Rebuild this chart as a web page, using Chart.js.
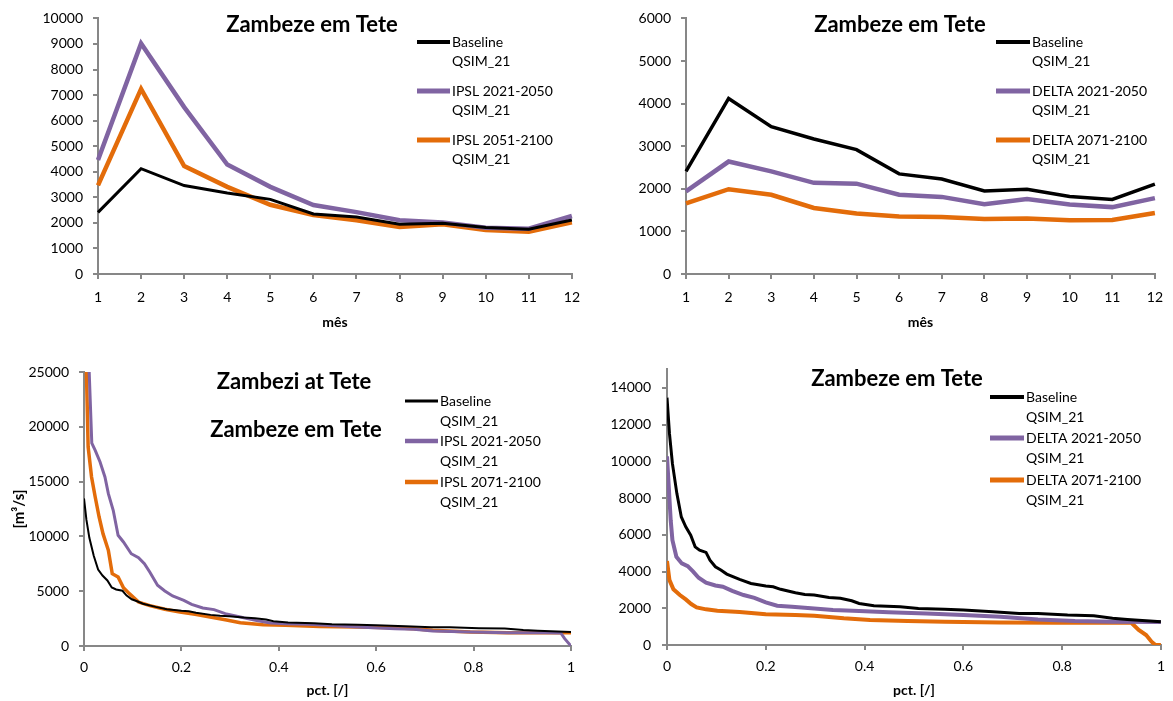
<!DOCTYPE html>
<html>
<head>
<meta charset="utf-8">
<script src="https://cdn.jsdelivr.net/npm/chart.js@4"></script>
<style>
  body { margin: 0; background: #fff; width: 1173px; height: 701px; position: relative; overflow: hidden; }
  canvas { position: absolute; }
</style>
</head>
<body>
<canvas id="monthlyIpsl" width="590" height="345" style="left:0;top:0"></canvas>
<canvas id="monthlyDelta" width="583" height="345" style="left:590px;top:0"></canvas>
<canvas id="durationIpsl" width="590" height="351" style="left:0;top:350px"></canvas>
<canvas id="durationDelta" width="583" height="351" style="left:590px;top:350px"></canvas>
<script>
// caudais médios mensais (m3/s)
const months = ['1', '2', '3', '4', '5', '6', '7', '8', '9', '10', '11', '12'];
const baselineMonthly = [2410, 4120, 3460, 3170, 2920, 2350, 2230, 1950, 1990, 1820, 1750, 2110];
const ipsl2021Monthly = [4460, 9020, 6530, 4280, 3410, 2700, 2420, 2100, 2020, 1810, 1770, 2270];
const ipsl2051Monthly = [3470, 7240, 4220, 3410, 2710, 2310, 2100, 1840, 1950, 1720, 1650, 2020];
const delta2021Monthly = [1940, 2640, 2410, 2140, 2120, 1860, 1810, 1640, 1760, 1630, 1570, 1780];
const delta2071Monthly = [1660, 1990, 1860, 1550, 1420, 1350, 1340, 1290, 1300, 1260, 1270, 1430];

// curvas de duração: fração do tempo vs caudal
const baselinePct = [0, 0.005, 0.011, 0.02, 0.029, 0.038, 0.048, 0.057, 0.066, 0.079, 0.087, 0.098, 0.109, 0.121, 0.147, 0.17, 0.2, 0.215, 0.23, 0.26, 0.279, 0.298, 0.328, 0.351, 0.374, 0.389, 0.419, 0.472, 0.509, 0.562, 0.6, 0.66, 0.713, 0.751, 0.811, 0.864, 0.902, 0.932, 1.0];
const baselineQ = [13460, 11500, 9870, 8240, 6970, 6430, 5980, 5340, 5160, 5040, 4620, 4260, 4080, 3860, 3570, 3350, 3210, 3170, 3030, 2840, 2750, 2720, 2590, 2540, 2410, 2260, 2140, 2080, 1990, 1940, 1900, 1810, 1720, 1720, 1630, 1590, 1450, 1390, 1270];

const ipsl2021Pct = [0, 0.016, 0.023, 0.033, 0.043, 0.05, 0.06, 0.07, 0.081, 0.097, 0.112, 0.124, 0.135, 0.151, 0.166, 0.182, 0.205, 0.221, 0.244, 0.267, 0.29, 0.321, 0.352, 0.383, 0.414, 0.46, 0.507, 0.561, 0.639, 0.677, 0.716, 0.793, 0.87, 0.948, 0.979, 0.987, 1.0];
const ipsl2021Q = [38000, 18500, 17850, 16790, 15420, 13900, 12380, 10100, 9490, 8420, 8060, 7510, 6750, 5540, 5020, 4560, 4170, 3800, 3470, 3320, 2950, 2650, 2340, 2100, 2040, 1980, 1860, 1730, 1580, 1520, 1370, 1280, 1220, 1220, 1190, 670, 0];

const ipsl2071Pct = [0, 0.0085, 0.0155, 0.023, 0.031, 0.039, 0.05, 0.058, 0.07, 0.081, 0.093, 0.112, 0.135, 0.166, 0.197, 0.228, 0.259, 0.29, 0.321, 0.368, 0.414, 0.484, 0.561, 0.639, 0.677, 0.716, 0.793, 0.87, 1.0];
const ipsl2071Q = [34800, 18160, 15420, 13590, 11770, 10250, 8730, 6600, 6300, 5320, 4780, 4010, 3680, 3350, 3100, 2890, 2650, 2400, 2130, 1950, 1890, 1790, 1730, 1670, 1580, 1430, 1280, 1220, 1220];

const delta2021Pct = [0, 0.004, 0.0075, 0.011, 0.019, 0.03, 0.042, 0.053, 0.064, 0.079, 0.098, 0.113, 0.132, 0.155, 0.177, 0.2, 0.223, 0.253, 0.298, 0.336, 0.389, 0.449, 0.525, 0.6, 0.675, 0.751, 0.826, 0.902, 1.0];
const delta2021Q = [10270, 8420, 6790, 5710, 4800, 4440, 4290, 3990, 3660, 3390, 3240, 3170, 2950, 2720, 2570, 2320, 2140, 2080, 1990, 1900, 1850, 1780, 1720, 1630, 1540, 1390, 1300, 1270, 1250];

const delta2071Pct = [0, 0.005, 0.013, 0.026, 0.038, 0.049, 0.06, 0.079, 0.102, 0.147, 0.2, 0.26, 0.298, 0.358, 0.411, 0.487, 0.562, 0.675, 0.789, 0.94, 0.955, 0.97, 0.981, 0.989, 1.0];
const delta2071Q = [4570, 3530, 3030, 2720, 2480, 2230, 2050, 1940, 1870, 1790, 1680, 1630, 1590, 1450, 1360, 1300, 1270, 1230, 1210, 1210, 815, 540, 180, 0, 0];

// marcas do eixo y do último painel (o eixo vai até 15000 sem rótulo)
const deltaDurationTicks = [0, 2000, 4000, 6000, 8000, 10000, 12000, 14000];

const BLACK = '#000000';
const PURPLE = '#8064a2';
const ORANGE = '#e36c0a';
const GREY = '#878787';

Chart.defaults.font.family = 'Lato, "Open Sans", sans-serif';
Chart.defaults.color = '#000';

const pairs = (xs, ys) => xs.map((x, i) => ({ x: x, y: ys[i] }));

function series(label, data, color, width) {
    return {
        label: label,
        data: data,
        borderColor: color,
        backgroundColor: color,
        borderWidth: width,
        pointRadius: 0,
        tension: 0,
        fill: false
    };
}

// legenda desenhada à mão (duas linhas por série)
const keyBlock = {
    id: 'keyBlock',
    afterDraw(chart, args, opts) {
        const ctx = chart.ctx;
        ctx.save();
        ctx.font = '14px Lato, sans-serif';
        ctx.textBaseline = 'middle';
        ctx.lineCap = 'butt';
        chart.data.datasets.forEach((ds, i) => {
            const y = opts.rows[i];
            ctx.strokeStyle = ds.borderColor;
            ctx.lineWidth = opts.widths[i];
            ctx.beginPath();
            ctx.moveTo(opts.x, y);
            ctx.lineTo(opts.x + opts.len, y);
            ctx.stroke();
            ctx.fillStyle = '#000';
            ds.label.split('\n').forEach((line, k) => {
                ctx.fillText(line, opts.x + opts.len + 2, y + k * opts.gap);
            });
        });
        ctx.restore();
    }
};

// títulos dentro da área do gráfico
const captions = {
    id: 'captions',
    afterDraw(chart, args, opts) {
        const ctx = chart.ctx;
        ctx.save();
        ctx.font = 'bold 22px Lato, sans-serif';
        ctx.fillStyle = '#000';
        ctx.textAlign = 'center';
        ctx.textBaseline = 'middle';
        opts.items.forEach(t => ctx.fillText(t.text, t.x, t.y));
        ctx.restore();
    }
};

function yAxis(max, step, width, pad, title) {
    const ax = {
        min: 0,
        max: max,
        ticks: { stepSize: step, padding: pad, font: { size: 14 }, callback: v => String(v) },
        grid: { drawOnChartArea: false, tickLength: 5, color: GREY, lineWidth: 2 },
        border: { color: GREY, width: 2 },
        afterFit: s => { s.width = width; }
    };
    if (title) {
        ax.title = { display: true, text: title, font: { size: 15, weight: 'bold' }, padding: { top: 10 } };
    }
    return ax;
}

function xAxis(height, pad, title, titlePad) {
    return {
        ticks: { padding: pad, font: { size: 14 }, maxRotation: 0, autoSkip: false },
        grid: { drawOnChartArea: false, tickLength: 5, color: GREY, lineWidth: 2 },
        border: { color: GREY, width: 2 },
        title: { display: true, text: title, font: { size: 14, weight: 'bold' }, padding: { bottom: titlePad } },
        afterFit: s => { s.height = height; }
    };
}

// eixo de fração 0..1, rótulos 0, 0.2 ... 1
function pctAxis(height, pad) {
    const ax = xAxis(height, pad, 'pct. [/]', 2);
    ax.type = 'linear';
    ax.min = 0;
    ax.max = 1;
    ax.ticks.stepSize = 0.2;
    ax.ticks.callback = v => String(Number(v.toFixed(1)));
    return ax;
}

function baseOptions(padding, scales, keyOpts, captionItems) {
    return {
        responsive: false,
        animation: false,
        layout: { padding: padding },
        scales: scales,
        plugins: {
            legend: { display: false },
            tooltip: { enabled: false },
            keyBlock: keyOpts,
            captions: { items: captionItems }
        }
    };
}

// médias mensais, cenários IPSL
new Chart(document.getElementById('monthlyIpsl'), {
    type: 'line',
    data: {
        labels: months,
        datasets: [
            series('Baseline\nQSIM_21', baselineMonthly, BLACK, 3),
            series('IPSL 2021-2050\nQSIM_21', ipsl2021Monthly, PURPLE, 4.5),
            series('IPSL 2051-2100\nQSIM_21', ipsl2051Monthly, ORANGE, 4.5)
        ]
    },
    options: baseOptions(
        { left: 0, top: 15, right: 15, bottom: 0 },
        { x: xAxis(71, 10, 'mês', 14), y: yAxis(10000, 1000, 98, 10) },
        { x: 417, len: 33, rows: [42, 91, 140], gap: 19.5, widths: [4, 5, 5] },
        [{ text: 'Zambeze em Tete', x: 312, y: 25 }]
    ),
    plugins: [keyBlock, captions]
});

// médias mensais, cenários DELTA
new Chart(document.getElementById('monthlyDelta'), {
    type: 'line',
    data: {
        labels: months,
        datasets: [
            series('Baseline\nQSIM_21', baselineMonthly, BLACK, 3.5),
            series('DELTA 2021-2050\nQSIM_21', delta2021Monthly, PURPLE, 4.5),
            series('DELTA 2071-2100\nQSIM_21', delta2071Monthly, ORANGE, 4.5)
        ]
    },
    options: baseOptions(
        { left: 0, top: 15, right: 10, bottom: 0 },
        { x: xAxis(71, 10, 'mês', 14), y: yAxis(6000, 1000, 96, 10) },
        { x: 406, len: 34, rows: [42, 91, 140], gap: 19.5, widths: [4, 5, 5] },
        [{ text: 'Zambeze em Tete', x: 310, y: 25 }]
    ),
    plugins: [keyBlock, captions]
});

// curvas de duração, cenários IPSL
new Chart(document.getElementById('durationIpsl'), {
    type: 'line',
    data: {
        datasets: [
            series('Baseline\nQSIM_21', pairs(baselinePct, baselineQ), BLACK, 2),
            series('IPSL 2021-2050\nQSIM_21', pairs(ipsl2021Pct, ipsl2021Q), PURPLE, 3),
            series('IPSL 2071-2100\nQSIM_21', pairs(ipsl2071Pct, ipsl2071Q), ORANGE, 3.5)
        ]
    },
    options: baseOptions(
        { left: 0, top: 22, right: 19, bottom: 0 },
        { x: pctAxis(55, 8), y: yAxis(25000, 5000, 84, 10, '[m³/s]') },
        { x: 405, len: 33, rows: [51, 91, 132], gap: 20, widths: [3, 4.5, 4.5] },
        [{ text: 'Zambezi at Tete', x: 294, y: 32 }, { text: 'Zambeze em Tete', x: 296, y: 80 }]
    ),
    plugins: [keyBlock, captions]
});

// curvas de duração, cenários DELTA
const deltaY = yAxis(15000, 2000, 77, 11);
deltaY.afterBuildTicks = s => { s.ticks = deltaDurationTicks.map(v => ({ value: v })); };
new Chart(document.getElementById('durationDelta'), {
    type: 'line',
    data: {
        datasets: [
            series('Baseline\nQSIM_21', pairs(baselinePct, baselineQ), BLACK, 3),
            series('DELTA 2021-2050\nQSIM_21', pairs(delta2021Pct, delta2021Q), PURPLE, 4),
            series('DELTA 2071-2100\nQSIM_21', pairs(delta2071Pct, delta2071Q), ORANGE, 4)
        ]
    },
    options: baseOptions(
        { left: 0, top: 18, right: 11, bottom: 0 },
        { x: pctAxis(56, 8), y: deltaY },
        { x: 400, len: 34, rows: [47, 88, 130], gap: 20, widths: [4, 5, 5] },
        [{ text: 'Zambeze em Tete', x: 307, y: 29 }]
    ),
    plugins: [keyBlock, captions]
});
</script>
</body>
</html>
